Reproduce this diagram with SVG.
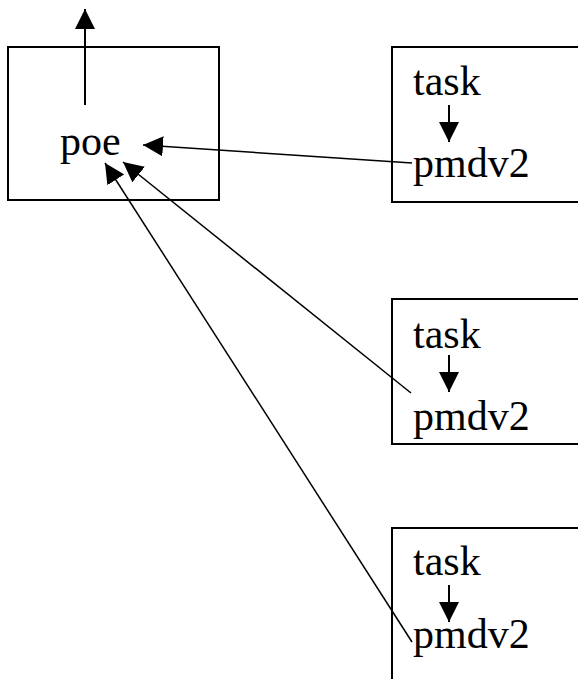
<svg xmlns="http://www.w3.org/2000/svg" width="578" height="679" viewBox="0 0 578 679">
<style>
.box{fill:#fff;stroke:#000;stroke-width:2}
.t{font-family:"Liberation Serif","Times New Roman",serif;font-size:42px;fill:#000}
.ln{stroke:#000;stroke-width:1.5;fill:none}
.th{stroke:#000;stroke-width:2;fill:none}
</style>
<defs>
<marker id="ah" markerUnits="userSpaceOnUse" markerWidth="20" markerHeight="20" refX="20" refY="10" orient="auto"><path d="M0,0 L20,10 L0,20 z" fill="#000"/></marker>
</defs>
<g id="poe">
<rect class="box" x="8" y="47" width="211" height="153"/>
<text class="t" x="60" y="155">poe</text>
</g>
<g id="node1">
<rect class="box" x="392" y="47" width="200" height="155"/>
<text class="t" x="413" y="95">task</text>
<line class="th" x1="449" y1="105" x2="449" y2="142" marker-end="url(#ah)"/>
<text class="t" x="413" y="177">pmdv2</text>
</g>
<g id="node2">
<rect class="box" x="392" y="299" width="200" height="145"/>
<text class="t" x="413" y="348">task</text>
<line class="th" x1="449" y1="355" x2="449" y2="392" marker-end="url(#ah)"/>
<text class="t" x="413" y="430">pmdv2</text>
</g>
<g id="node3">
<rect class="box" x="392" y="528" width="200" height="170"/>
<text class="t" x="413" y="575">task</text>
<line class="th" x1="449" y1="585" x2="449" y2="622" marker-end="url(#ah)"/>
<text class="t" x="413" y="648">pmdv2</text>
</g>
<g id="connectors">
<line class="th" x1="85" y1="105" x2="85" y2="9" marker-end="url(#ah)"/>
<line class="ln" x1="412" y1="163" x2="143" y2="145" marker-end="url(#ah)"/>
<line class="ln" x1="411" y1="393" x2="123" y2="162" marker-end="url(#ah)"/>
<line class="ln" x1="412" y1="642" x2="105" y2="163" marker-end="url(#ah)"/>
</g>
</svg>
